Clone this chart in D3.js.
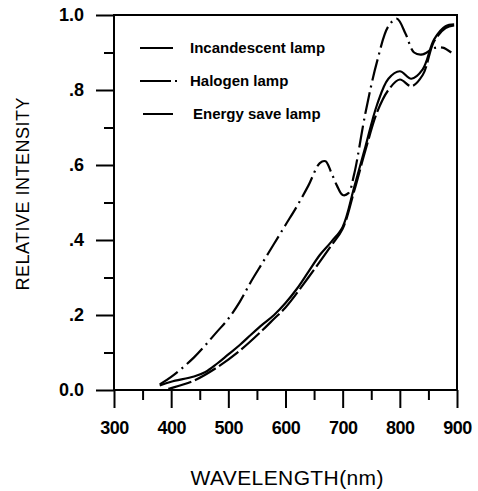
<!DOCTYPE html>
<html>

<head>
    <meta charset="utf-8" />
    <title>Relative intensity</title>
    <script src="https://d3js.org/d3.v7.min.js"></script>
</head>

<body style="margin:0;background:#fff">
    <style>
        text {
            font-family: "Liberation Sans", Arial, sans-serif;
            fill: #000;
        }

        .tick text {
            font-size: 18px;
            font-weight: bold;
        }
    </style>
    <div class="chart"></div>

    <script>
        // wavelengths (nm) and relative intensities
        var incWave = [380, 400, 440, 460, 480, 500, 520, 540, 560, 580, 600, 620, 640, 660, 680, 700, 720, 740, 760, 780, 800, 820, 840, 860, 880, 895];
        var incValue = [0.012, 0.022, 0.036, 0.048, 0.07, 0.095, 0.12, 0.148, 0.175, 0.2, 0.232, 0.27, 0.315, 0.36, 0.395, 0.435, 0.54, 0.65, 0.76, 0.83, 0.85, 0.83, 0.855, 0.935, 0.97, 0.975];

        var halWave = [380, 400, 440, 480, 500, 520, 540, 560, 580, 600, 620, 640, 660, 670, 680, 690, 700, 710, 720, 740, 760, 780, 795, 810, 825, 840, 860, 875, 890];
        var halValue = [0.015, 0.035, 0.087, 0.155, 0.19, 0.235, 0.29, 0.34, 0.39, 0.44, 0.49, 0.545, 0.605, 0.61, 0.58, 0.545, 0.52, 0.525, 0.575, 0.74, 0.875, 0.97, 0.99, 0.95, 0.9, 0.895, 0.912, 0.913, 0.9];

        var engWave = [395, 400, 440, 480, 520, 560, 580, 600, 640, 680, 700, 720, 740, 760, 780, 800, 820, 840, 860, 880, 895];
        var engValue = [0.003, 0.005, 0.025, 0.06, 0.105, 0.16, 0.19, 0.22, 0.3, 0.385, 0.43, 0.53, 0.64, 0.74, 0.8, 0.828, 0.81, 0.84, 0.93, 0.965, 0.972];

        var seriesNames = ["Incandescent lamp", "Halogen lamp", "Energy save lamp"];
        var xMajor = [300, 400, 500, 600, 700, 800, 900];
        var xMinor = [350, 450, 550, 650, 750, 850];
        var yMajor = [0, 0.2, 0.4, 0.6, 0.8, 1.0];
        var yMinor = [0.1, 0.3, 0.5, 0.7, 0.9];

        const w = 478;
        const h = 491;
        const mLeft = 114, mRight = 457, mTop = 15, mBottom = 390;

        let svg = d3.select('.chart')
            .append('svg')
            .attr('width', w)
            .attr('height', h);

        let x = d3.scaleLinear().domain([300, 900]).range([mLeft, mRight]);
        let y = d3.scaleLinear().domain([0, 1]).range([mBottom, mTop]);

        // frame
        svg.append('rect')
            .attr('x', mLeft).attr('y', mTop)
            .attr('width', mRight - mLeft).attr('height', mBottom - mTop)
            .attr('fill', 'none').attr('stroke', '#000').attr('stroke-width', 2);

        // x axis: minor then major ticks
        svg.append('g')
            .attr('transform', `translate(0,${mBottom})`)
            .call(d3.axisBottom(x).tickValues(xMinor).tickSize(10).tickFormat(''))
            .call(g => g.select('.domain').remove())
            .selectAll('line').attr('stroke-width', 2);

        svg.append('g')
            .attr('transform', `translate(0,${mBottom})`)
            .call(d3.axisBottom(x).tickValues(xMajor).tickSize(18).tickPadding(13).tickFormat(d3.format('d')))
            .call(g => g.select('.domain').remove())
            .call(g => g.selectAll('line').attr('stroke-width', 2))
            .call(g => g.selectAll('text').attr('letter-spacing', '-0.5px'));

        // y axis
        svg.append('g')
            .attr('transform', `translate(${mLeft},0)`)
            .call(d3.axisLeft(y).tickValues(yMinor).tickSize(10).tickFormat(''))
            .call(g => g.select('.domain').remove())
            .selectAll('line').attr('stroke-width', 2);

        svg.append('g')
            .attr('transform', `translate(${mLeft},0)`)
            .call(d3.axisLeft(y).tickValues(yMajor).tickSize(18).tickPadding(12)
                .tickFormat(d => (d === 0 || d === 1) ? d3.format('.1f')(d) : d3.format('.1f')(d).replace('0.', '.')))
            .call(g => g.select('.domain').remove())
            .call(g => g.selectAll('line').attr('stroke-width', 2));

        // axis titles
        svg.append('text')
            .attr('x', 287).attr('y', 485)
            .attr('text-anchor', 'middle')
            .attr('font-size', 21)
            .attr('textLength', 193)
            .text('WAVELENGTH(nm)');

        svg.append('text')
            .attr('transform', 'translate(29,194) rotate(-90)')
            .attr('text-anchor', 'middle')
            .attr('font-size', 18)
            .attr('textLength', 193)
            .text('RELATIVE INTENSITY');

        // curves
        let line = d3.line()
            .x(d => x(d[0]))
            .y(d => y(d[1]))
            .curve(d3.curveCatmullRom);

        let styles = ['none', '22,5,2,5', '24,4'];
        let series = [
            d3.zip(incWave, incValue),
            d3.zip(halWave, halValue),
            d3.zip(engWave, engValue)
        ];

        svg.selectAll('path.curve')
            .data(series)
            .enter()
            .append('path')
            .attr('class', 'curve')
            .attr('d', line)
            .attr('fill', 'none')
            .attr('stroke', '#000')
            .attr('stroke-width', 2.2)
            .attr('stroke-dasharray', (d, i) => styles[i]);

        // legend
        let legend = svg.selectAll('g.legend')
            .data(seriesNames)
            .enter()
            .append('g')
            .attr('class', 'legend')
            .attr('transform', (d, i) => `translate(140,${48 + i * 33})`);

        legend.append('line')
            .attr('x1', (d, i) => i === 2 ? 3 : 0)
            .attr('x2', (d, i) => i === 1 ? 37 : 33)
            .attr('stroke', '#000')
            .attr('stroke-width', 2)
            .attr('stroke-dasharray', (d, i) => i === 1 ? '31,4,2,4' : 'none');

        legend.append('text')
            .attr('x', (d, i) => i === 2 ? 53 : 50)
            .attr('y', 5)
            .attr('font-size', 15)
            .attr('font-weight', 'bold')
            .text(d => d);
    </script>

</body>

</html>
